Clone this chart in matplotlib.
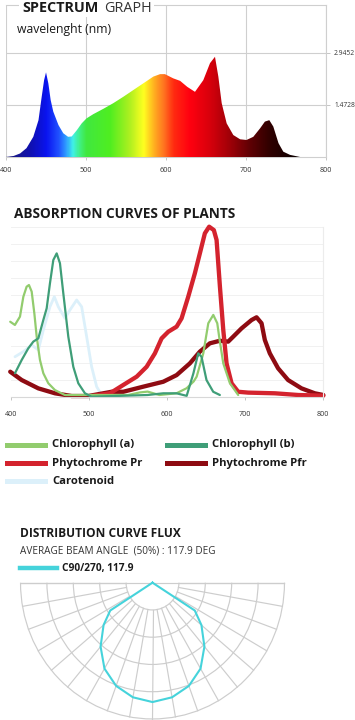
import numpy as np
import matplotlib
matplotlib.use("Agg")
import matplotlib.pyplot as plt
from matplotlib.colors import LinearSegmentedColormap
from matplotlib.patches import Polygon, Arc
from matplotlib.lines import Line2D

plt.rcParams["font.family"] = ["Open Sans", "DejaVu Sans"]

# ---- spectrum (relative power vs wavelength) ----
spec_nm = [400, 410, 418, 426, 434.5, 441, 445, 448, 450.4, 453.3, 456.2, 459.5, 466, 472,
           478, 482.5, 489, 495, 501, 509.5, 522, 534.5, 547, 559.5, 572, 584.5, 593, 599,
           609.5, 618, 627, 636.6, 647, 655.4, 661.6, 665.8, 670, 676.2, 684.5, 693, 701,
           709.5, 718, 724, 729.5, 734.5, 741, 747, 755.4, 768, 800]
spec_val = [0.0, 0.03, 0.10, 0.25, 0.57, 1.04, 1.70, 2.17, 2.39, 2.08, 1.61, 1.28, 0.90, 0.67,
            0.57, 0.58, 0.76, 0.95, 1.09, 1.21, 1.36, 1.52, 1.70, 1.89, 2.08, 2.27, 2.34, 2.34,
            2.22, 2.15, 1.98, 1.84, 2.17, 2.65, 2.83, 2.27, 1.52, 0.95, 0.62, 0.50, 0.48,
            0.57, 0.81, 1.00, 1.04, 0.86, 0.39, 0.15, 0.06, 0.0, 0.0]
spec_ticks = [1.4728, 2.9452]
wl_ticks = [400, 500, 600, 700, 800]

# gradient stops (nm, colour)
grad_nm = [400, 430, 450, 465, 475, 483, 492, 500, 530, 555, 572, 585, 598, 610, 630, 655,
           680, 705, 730, 760, 800]
grad_col = ["#1c1c78", "#1010b0", "#0a14f0", "#2050ff", "#30a0ff", "#40f0e8", "#40f080",
            "#40e840", "#50ee20", "#b0f020", "#ffff20", "#ffb020", "#ff7020", "#ff2a10",
            "#ff0010", "#d8000c", "#a00008", "#600004", "#300000", "#100000", "#000000"]

# ---- absorption curves ----
chl_a_nm = [399, 405, 411.5, 415.8, 420, 423, 426.5, 429.9, 432.9, 437.1, 441.4, 447.8,
            456.3, 469, 500, 550, 565, 575, 590, 612, 625, 634, 637.8, 646.3, 652.7, 659.1,
            664.2, 667, 671.9, 680.4, 691]
chl_a = [4.41, 4.22, 4.71, 5.88, 6.47, 6.57, 6.18, 4.90, 3.53, 2.16, 1.38, 0.79,
         0.39, 0.10, 0.10, 0.10, 0.25, 0.30, 0.10, 0.20, 0.50, 0.90, 1.18, 2.55, 4.32, 4.81,
         4.32, 3.40, 1.96, 0.79, 0.10]
chl_b_nm = [405.1, 413.7, 422.2, 428.6, 435, 441.4, 445.7, 449.9, 454.2, 458.5, 462.7, 467,
            473.4, 479.8, 486.2, 494.7, 503.3, 540, 575, 595, 612, 625, 633.6, 639.8, 644,
            650.4, 659, 667.5]
chl_b = [1.38, 2.16, 2.85, 3.24, 3.43, 4.51, 5.20, 6.67, 8.04, 8.43, 7.85, 6.08,
         3.53, 1.76, 0.79, 0.20, 0.0, 0.05, 0.10, 0.20, 0.20, 0.05, 1.37, 2.55, 2.35,
         0.98, 0.29, 0.10]
pr_nm = [505, 526.8, 543.8, 561, 573.7, 584.3, 592.9, 601.4, 612.1, 618.5, 627, 635.5, 641.9,
         648.3, 653.8, 659.8, 663.3, 667.6, 671.9, 676.1, 682.5, 691, 703.8, 738, 767.9, 800]
pr = [0.05, 0.20, 0.69, 1.18, 1.76, 2.55, 3.43, 3.82, 4.12, 4.61, 5.88, 7.26, 8.43,
      9.61, 10.0, 9.80, 9.22, 6.47, 3.92, 1.96, 0.79, 0.29, 0.24, 0.20, 0.10, 0.06]
pfr_nm = [399, 413.7, 435, 456.3, 477.7, 499, 528.9, 543.8, 569.4, 595, 612.1, 629.1, 641.9,
          654.7, 667.5, 678.2, 684.6, 695.3, 708.1, 714.5, 720.9, 725.1, 731.5, 742.1, 754.9,
          772.1, 789.1, 800]
pfr = [1.47, 0.98, 0.49, 0.20, 0.04, 0.04, 0.29, 0.29, 0.59, 0.88, 1.27, 1.96, 2.65,
       3.14, 3.29, 3.24, 3.53, 4.02, 4.51, 4.67, 4.32, 3.34, 2.55, 1.67, 0.98,
       0.49, 0.20, 0.10]
car_nm = [405.1, 415.8, 426.5, 435, 441.4, 449.9, 455.5, 460.6, 469.1, 475.5, 484.1, 490.5,
          496.9, 503.3, 509.7, 516.1]
car = [2.35, 2.65, 3.04, 2.75, 3.92, 5.29, 5.88, 5.29, 4.61, 5.10, 5.69, 5.29,
       3.53, 1.76, 0.59, 0.10]

# ---- beam distribution (C90/270), relative intensity vs angle from nadir ----
beam_deg = [0, 10, 20, 30, 40, 50, 57.5, 90]
beam_r = [4.38, 4.27, 4.03, 3.64, 3.06, 2.42, 1.90, 0.0]

W, H = 355, 720
fig = plt.figure(figsize=(W / 100, H / 100), dpi=100)


def box(x0, y0, x1, y1):
    return [x0 / W, 1 - y1 / H, (x1 - x0) / W, (y1 - y0) / H]


def ftext(x, y, s, **kw):
    fig.text(x / W, 1 - y / H, s, va="baseline", ha="left", **kw)


grid_c = "#cfcfcf"

# ================= spectrum =================
ax1 = fig.add_axes(box(5.7, 5, 325.7, 157))
ytop = 2.9452 * 152 / 104.3
ax1.set_xlim(400, 800)
ax1.set_ylim(0, ytop)
cmap = LinearSegmentedColormap.from_list(
    "spec", list(zip([(n - 400) / 400 for n in grad_nm], grad_col)))
shape = Polygon(np.vstack([[400, 0], np.column_stack([spec_nm, spec_val]), [800, 0]]),
                closed=True, facecolor="none", edgecolor="none")
ax1.add_patch(shape)
im = ax1.imshow(np.linspace(0, 1, 800)[None, :], extent=[400, 800, 0, ytop],
                aspect="auto", cmap=cmap, origin="lower", zorder=3)
im.set_clip_path(shape)
ax1.set_xticks(wl_ticks)
ax1.set_yticks(spec_ticks)
ax1.set_yticklabels(["1.4728", "2.9452"])
ax1.yaxis.tick_right()
ax1.grid(True, color=grid_c, lw=0.8)
ax1.set_axisbelow(True)
for s in ["top", "right", "bottom"]:
    ax1.spines[s].set_color(grid_c)
    ax1.spines[s].set_linewidth(0.8)
ax1.spines["left"].set_visible(False)
ax1.tick_params(axis="x", length=2.5, width=0.6, color="#bbbbbb", labelsize=5.2,
                labelcolor="#333333", pad=5)
ax1.tick_params(axis="y", length=3, width=0.6, color="#bbbbbb", labelsize=4.8,
                labelcolor="#333333", pad=3)

ftext(22, 11.5, "SPECTRUM", fontsize=10.4, fontweight="bold", color="#1a1a1a",
      bbox=dict(facecolor="white", edgecolor="none", pad=2))
ftext(104, 11.5, "GRAPH", fontsize=10.4, color="#333333",
      bbox=dict(facecolor="white", edgecolor="none", pad=2))
ftext(17, 33, "wavelenght (nm)", fontsize=8.8, color="#1a1a1a")

# ================= absorption =================
ax2 = fig.add_axes(box(11, 226.7, 323.3, 396.7))
ax2.set_xlim(400, 800)
ax2.set_ylim(0, 10)
ax2.set_yticks(range(0, 11))
ax2.set_xticks(wl_ticks)
ax2.grid(axis="y", color="#f1f1f1", lw=0.7)
ax2.set_axisbelow(True)
ax2.tick_params(axis="y", left=False, labelleft=False)
ax2.tick_params(axis="x", length=2.5, width=0.6, color="#bbbbbb", labelsize=5.2,
                labelcolor="#333333", pad=8)
ax2.spines["left"].set_visible(False)
ax2.spines["top"].set_visible(False)
ax2.spines["right"].set_color("#ececec")
ax2.spines["bottom"].set_color("#d8d8d8")

c_a, c_b, c_pr, c_pfr, c_car = "#92cc6e", "#3f9e78", "#d4232e", "#8e0b12", "#dcf0fa"
kw = dict(solid_capstyle="round", solid_joinstyle="round", clip_on=False)
ax2.plot(car_nm, car, color=c_car, lw=2.0, **kw)
ax2.plot(pfr_nm, pfr, color=c_pfr, lw=3.1, **kw)
ax2.plot(pr_nm, pr, color=c_pr, lw=3.1, **kw)
ax2.plot(chl_a_nm, chl_a, color=c_a, lw=1.6, **kw)
ax2.plot(chl_b_nm, chl_b, color=c_b, lw=1.6, **kw)

ftext(14, 218.5, "ABSORPTION CURVES OF PLANTS", fontsize=9.8, fontweight="bold",
      color="#1a1a1a")

legend_items = [("Chlorophyll (a)", c_a, 7, 445), ("Chlorophyll (b)", c_b, 167, 445),
                ("Phytochrome Pr", c_pr, 7, 463), ("Phytochrome Pfr", c_pfr, 167, 463),
                ("Carotenoid", c_car, 7, 481)]
for label, col, x0, yc in legend_items:
    fig.add_artist(Line2D([x0 / W, (x0 + 38) / W], [1 - yc / H, 1 - yc / H],
                          color=col, lw=3.6, transform=fig.transFigure))
    fig.text((x0 + 45) / W, 1 - yc / H, label, fontsize=8.1, fontweight="bold",
             color="#1a1a1a", va="center", ha="left")

# ================= beam distribution =================
ftext(20, 537, "DISTRIBUTION CURVE FLUX", fontsize=8.6, fontweight="bold", color="#1a1a1a")
ftext(20, 553.5, "AVERAGE BEAM ANGLE  (50%) : 117.9 DEG", fontsize=7.2, color="#333333")
fig.add_artist(Line2D([20 / W, 57 / W], [1 - 568 / H, 1 - 568 / H], color="#45d3db",
                      lw=3.2, transform=fig.transFigure))
ftext(62, 571, "C90/270, 117.9", fontsize=7.3, fontweight="bold", color="#1a1a1a")

ax3 = fig.add_axes(box(20, 582.7, 285, 719.5))
ax3.set_xlim(-5.02, 5.02)
ax3.set_ylim(-5.02, 0)
ax3.axis("off")
pg = "#cdcdcd"
for r in range(1, 6):
    ax3.add_patch(Arc((0, 0), 2 * r, 2 * r, theta1=180, theta2=360, color=pg, lw=0.85,
                      clip_on=False))
for a in range(180, 361, 10):
    t = np.radians(a)
    ax3.plot([np.cos(t), 5 * np.cos(t)], [np.sin(t), 5 * np.sin(t)], color=pg, lw=0.85,
             clip_on=False)
ax3.plot([-5, 5], [0, 0], color=pg, lw=0.85, clip_on=False)

th = np.radians(np.array(beam_deg))
rr = np.array(beam_r)
bx = np.concatenate([-rr[::-1] * np.sin(th[::-1]), rr[1:] * np.sin(th[1:])])
by = np.concatenate([-rr[::-1] * np.cos(th[::-1]), -rr[1:] * np.cos(th[1:])])
ax3.plot(bx, by, color="#45d3db", lw=1.5, clip_on=False, zorder=5)

fig.savefig("out.png", dpi=100, facecolor="white")
